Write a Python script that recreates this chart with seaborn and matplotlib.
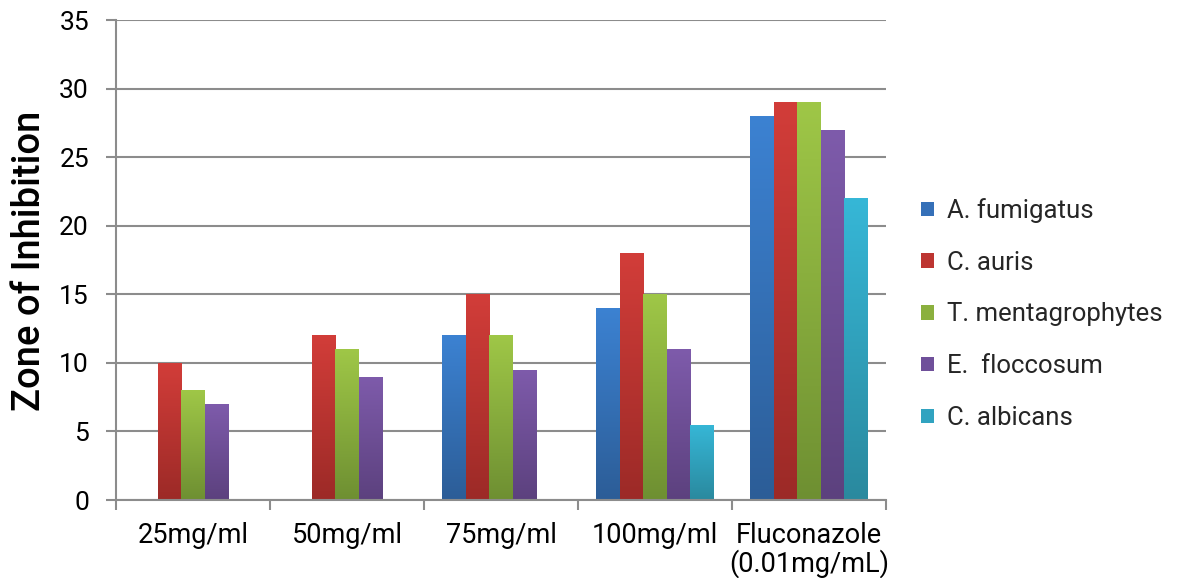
import numpy as np
import pandas as pd
import matplotlib
matplotlib.use("Agg")
import matplotlib.pyplot as plt
from matplotlib.colors import LinearSegmentedColormap, to_rgb
from matplotlib.patches import Patch
from matplotlib.ticker import FixedLocator, NullFormatter
import seaborn as sns

# Zone of inhibition per extract concentration and organism
categories = ["25mg/ml", "50mg/ml", "75mg/ml", "100mg/ml", "Fluconazole\n(0.01mg/mL)"]
organisms = ["A. fumigatus", "C. auris", "T. mentagrophytes", "E.  floccosum", "C. albicans"]
a_fumigatus = [0, 0, 12, 14, 28]
c_auris = [10, 12, 15, 18, 29]
t_mentagrophytes = [8, 11, 12, 15, 29]
e_floccosum = [7, 9, 9.5, 11, 27]
c_albicans = [0, 0, 0, 5.5, 22]
y_ticks = [0, 5, 10, 15, 20, 25, 30, 35]

series = [a_fumigatus, c_auris, t_mentagrophytes, e_floccosum, c_albicans]
rows = []
for org, vals in zip(organisms, series):
    for cat, v in zip(categories, vals):
        rows.append({"Concentration": cat, "Organism": org, "Zone": v})
df = pd.DataFrame(rows)

# top (light) and bottom (dark) shades for each series
top_colors = ["#3C82D2", "#D23D39", "#9FC747", "#7E5BAB", "#36B7D7"]
bottom_colors = ["#2C5D97", "#9C2A27", "#6E8F32", "#5C417E", "#2A899E"]
mid_colors = ["#3570B8", "#BD3531", "#8BB03E", "#6F509A", "#31A3C0"]

sns.set_theme(style="white")
plt.rcParams["font.family"] = ["Roboto", "DejaVu Sans"]

fig = plt.figure(figsize=(11.85, 5.78), dpi=100)
ax = fig.add_axes([116 / 1185, 1 - 500 / 578, 770 / 1185, 480 / 578])

sns.barplot(data=df, x="Concentration", y="Zone", hue="Organism",
            order=categories, hue_order=organisms, palette=mid_colors,
            width=0.76, dodge=True, legend=False, ax=ax, linewidth=0,
            saturation=1, zorder=3)

ax.set_xlim(-0.5, 4.5)
ax.set_ylim(0, 35)

# vertical shading on each bar, light at the top, dark at the base
grad = np.linspace(1, 0, 256).reshape(-1, 1)
n_cat = len(categories)
for i, patch in enumerate(ax.patches):
    h = patch.get_height()
    if h <= 0:
        continue
    s = i // n_cat
    cmap = LinearSegmentedColormap.from_list(
        f"g{i}", [to_rgb(bottom_colors[s]), to_rgb(top_colors[s])])
    x0 = patch.get_x()
    w = patch.get_width()
    im = ax.imshow(grad, cmap=cmap, aspect="auto", origin="upper",
                   extent=[x0, x0 + w, 0, h], zorder=4, interpolation="bilinear")
    im.set_clip_path(patch)
ax.set_xlim(-0.5, 4.5)
ax.set_ylim(0, 35)

grid_col = "#8C8C8C"
ax.set_yticks(y_ticks)
ax.yaxis.grid(True, color=grid_col, linewidth=1.5, zorder=0)
ax.set_axisbelow(True)
ax.xaxis.grid(False)

for side in ["top", "right"]:
    ax.spines[side].set_visible(False)
for side in ["left", "bottom"]:
    ax.spines[side].set_color(grid_col)
    ax.spines[side].set_linewidth(1.5)
    ax.spines[side].set_zorder(5)

ax.tick_params(axis="y", which="major", left=True, length=7.5, width=1.5,
               color=grid_col, labelsize=19, labelcolor="black", pad=12)
ax.tick_params(axis="x", which="major", bottom=False, length=0,
               labelsize=19.5, labelcolor="black", pad=16)
ax.xaxis.set_minor_locator(FixedLocator(np.arange(-0.5, 5, 1.0)))
ax.xaxis.set_minor_formatter(NullFormatter())
ax.tick_params(axis="x", which="minor", bottom=True, length=7.5, width=1.5,
               color=grid_col)
for lbl in ax.get_xticklabels():
    lbl.set_linespacing(1.0)

ax.set_xlabel("")
ax.set_ylabel("")
fig.text(30 / 1185, 1 - 261 / 578, "Zone of Inhibition", rotation=90,
         ha="center", va="center", fontsize=27.5, fontweight="medium", color="black")

handles = [Patch(facecolor=c, edgecolor="none") for c in mid_colors]
fig.legend(handles, organisms, loc="center left",
           bbox_to_anchor=(921 / 1185, 1 - 314 / 578), frameon=False,
           fontsize=18.5, handlelength=0.5, handleheight=0.5,
           handletextpad=0.5, labelspacing=1.08, borderpad=0, borderaxespad=0)

fig.savefig("out.png", dpi=100, facecolor="white")
